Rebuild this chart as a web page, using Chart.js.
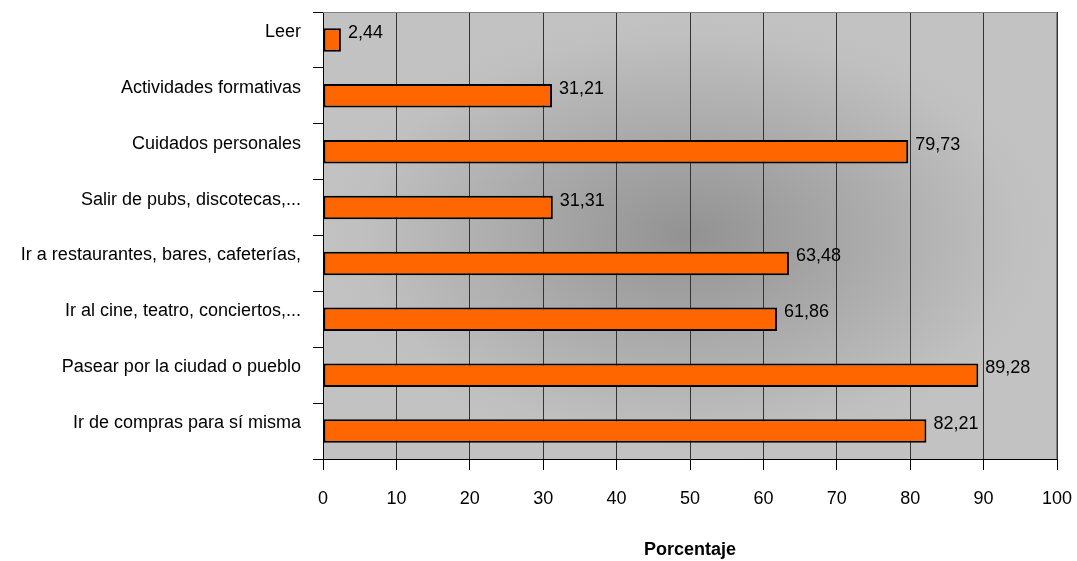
<!DOCTYPE html>
<html>
<head>
<meta charset="utf-8">
<script src="https://cdn.jsdelivr.net/npm/chart.js@4"></script>
<style>
  html, body { margin: 0; padding: 0; background: #fff; }
  #wrap { width: 1077px; height: 561px; }
</style>
</head>
<body>
<div id="wrap"><canvas id="chart" width="1077" height="561"></canvas></div>
<script>
// Categorías (de arriba a abajo) y porcentajes
const categorias = [
  'Leer',
  'Actividades formativas',
  'Cuidados personales',
  'Salir de pubs, discotecas,...',
  'Ir a restaurantes, bares, cafeterías,',
  'Ir al cine, teatro, conciertos,...',
  'Pasear por la ciudad o pueblo',
  'Ir de compras para sí misma'
];
const porcentajes = [2.44, 31.21, 79.73, 31.31, 63.48, 61.86, 89.28, 82.21];
const ejeX = { min: 0, max: 100, paso: 10 };
const tituloEje = 'Porcentaje';

const FONT = 'Arial, "Liberation Sans", sans-serif';

// Fondo gris con degradado desde el centro
const fondoPlugin = {
  id: 'fondo',
  beforeDraw(chart) {
    const { ctx, chartArea: a } = chart;
    const cx = (a.left + a.right) / 2;
    const cy = (a.top + a.bottom) / 2;
    const w = a.right - a.left;
    const h = a.bottom - a.top;
    ctx.save();
    ctx.beginPath();
    ctx.rect(a.left, a.top, w, h);
    ctx.clip();
    ctx.translate(cx, cy);
    ctx.scale(w / h, 1);
    const g = ctx.createRadialGradient(0, 0, 0, 0, 0, h / 2);
    g.addColorStop(0, '#929292');
    g.addColorStop(0.9, '#c0c0c0');
    g.addColorStop(1, '#c2c2c2');
    ctx.fillStyle = g;
    ctx.fillRect(-w, -h, 2 * w, 2 * h);
    ctx.restore();
  },
  afterDraw(chart) {
    const { ctx, chartArea: a } = chart;
    ctx.save();
    ctx.strokeStyle = '#808080';
    ctx.lineWidth = 1;
    ctx.beginPath();
    ctx.moveTo(a.left, a.top + 0.5);
    ctx.lineTo(a.right - 0.5, a.top + 0.5);
    ctx.lineTo(a.right - 0.5, a.bottom);
    ctx.stroke();
    ctx.restore();
  }
};

// Etiquetas de valor a la derecha de cada barra
const etiquetasPlugin = {
  id: 'etiquetas',
  afterDatasetsDraw(chart) {
    const { ctx } = chart;
    const meta = chart.getDatasetMeta(0);
    ctx.save();
    ctx.font = '18px ' + FONT;
    ctx.fillStyle = '#000';
    ctx.textAlign = 'left';
    ctx.textBaseline = 'middle';
    meta.data.forEach((bar, i) => {
      const txt = porcentajes[i].toFixed(2).replace('.', ',');
      ctx.fillText(txt, bar.x + 7, bar.y - 7);
    });
    ctx.restore();
  }
};

const ctx = document.getElementById('chart').getContext('2d');
new Chart(ctx, {
  type: 'bar',
  data: {
    labels: categorias,
    datasets: [{
      data: porcentajes,
      backgroundColor: '#ff6600',
      borderColor: '#000',
      borderWidth: 2,
      borderSkipped: false,
      categoryPercentage: 1,
      barPercentage: 0.42
    }]
  },
  options: {
    indexAxis: 'y',
    responsive: false,
    animation: false,
    layout: { padding: { top: 12, right: 20, left: 0, bottom: 0 } },
    plugins: {
      legend: { display: false },
      tooltip: { enabled: false }
    },
    scales: {
      x: {
        min: ejeX.min,
        max: ejeX.max,
        ticks: {
          stepSize: ejeX.paso,
          color: '#000',
          padding: 18,
          font: { family: FONT, size: 18 }
        },
        grid: {
          color: '#333',
          tickColor: '#000',
          tickLength: 11
        },
        border: { color: '#000', width: 1 },
        title: {
          display: true,
          text: tituloEje,
          color: '#000',
          font: { family: FONT, size: 18, weight: 'bold' },
          padding: { top: 0, bottom: 0 }
        },
        afterFit(scale) {
          scale.height = 102;
          scale.paddingLeft = 0;
          scale.paddingRight = 0;
        }
      },
      y: {
        offset: true,
        ticks: {
          color: '#000',
          padding: 12,
          labelOffset: -8,
          font: { family: FONT, size: 18 }
        },
        grid: {
          offset: true,
          drawOnChartArea: false,
          color: '#000',
          tickLength: 10
        },
        border: { color: '#000', width: 1 },
        afterFit(scale) {
          scale.width = 323;
          scale.paddingTop = 0;
          scale.paddingBottom = 0;
        }
      }
    }
  },
  plugins: [fondoPlugin, etiquetasPlugin]
});
</script>
</body>
</html>
